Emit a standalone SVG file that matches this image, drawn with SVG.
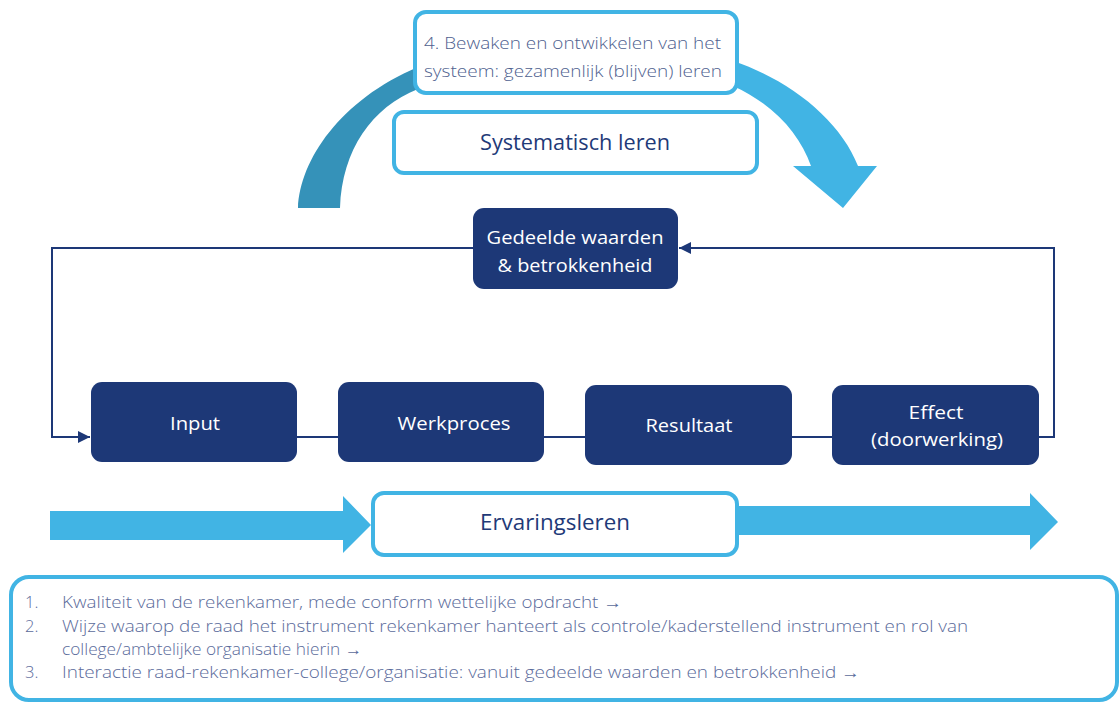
<svg xmlns="http://www.w3.org/2000/svg" width="1119" height="702" viewBox="0 0 1119 702">
<defs>
<style>
.navy{fill:#1d3877;}
.lb{fill:#fff;stroke:#41b4e4;stroke-width:4;}
.wt{fill:#fff;font-family:"Open Sans","Liberation Sans",sans-serif;font-size:19px;text-anchor:middle;}
.dt{fill:#1f3a78;font-family:"Open Sans","Liberation Sans",sans-serif;font-size:21px;text-anchor:middle;}
.gt{fill:#4f5f8f;font-family:"Open Sans","Liberation Sans",sans-serif;font-size:17px;font-weight:300;}
.bt{fill:#5b6b9b;font-family:"Open Sans","Liberation Sans",sans-serif;font-size:16.5px;font-weight:300;}
.conn{fill:none;stroke:#1d3877;stroke-width:2;}
</style>
<marker id="ah" viewBox="0 0 10 10" refX="10" refY="5" markerWidth="6" markerHeight="6" markerUnits="strokeWidth" orient="auto">
<path d="M0,0 L10,5 L0,10 Z" fill="#1d3877"/>
</marker>
</defs>

<g id="arc-left">
<path d="M298,208 C300,160 340,100 418,67 L418,89 C372,107 342,150 340,208 Z" fill="#3592b9"/>
</g>
<g id="arc-right">
<path d="M733,61 C790,80 840,120 858,166 L877,166 L843,208 L793,166 L811,166 C800,135 775,105 733,86 Z" fill="#41b4e4"/>
</g>

<g id="node-4">
<rect class="lb" x="415" y="12" width="322" height="81" rx="11"/>
<text class="gt" x="424" y="49" textLength="297" lengthAdjust="spacingAndGlyphs">4. Bewaken en ontwikkelen van het</text>
<text class="gt" x="424" y="77" textLength="298" lengthAdjust="spacingAndGlyphs">systeem: gezamenlijk (blijven) leren</text>
</g>

<g id="node-systematisch">
<rect class="lb" x="394" y="112" width="363" height="61" rx="10"/>
<text class="dt" x="575" y="150" textLength="190" lengthAdjust="spacingAndGlyphs">Systematisch leren</text>
</g>

<g id="connectors">
<polyline class="conn" points="1038,437 1054,437 1054,248 679,248" marker-end="url(#ah)"/>
<polyline class="conn" points="473,248 52,248 52,437 90,437" marker-end="url(#ah)"/>
<line class="conn" x1="297" y1="437" x2="338" y2="437"/>
<line class="conn" x1="544" y1="437" x2="585" y2="437"/>
<line class="conn" x1="792" y1="437" x2="833" y2="437"/>
</g>

<g id="node-gedeelde">
<rect class="navy" x="473" y="208" width="205" height="81" rx="11"/>
<text class="wt" x="575" y="244" textLength="177" lengthAdjust="spacingAndGlyphs">Gedeelde waarden</text>
<text class="wt" x="575" y="272" textLength="155" lengthAdjust="spacingAndGlyphs">&amp; betrokkenheid</text>
</g>

<g id="node-input">
<rect class="navy" x="91" y="382" width="206" height="80" rx="11"/>
<text class="wt" x="195" y="430" textLength="50" lengthAdjust="spacingAndGlyphs">Input</text>
</g>
<g id="node-werkproces">
<rect class="navy" x="338" y="382" width="206" height="80" rx="11"/>
<text class="wt" x="454" y="430" textLength="113" lengthAdjust="spacingAndGlyphs">Werkproces</text>
</g>
<g id="node-resultaat">
<rect class="navy" x="585" y="385" width="207" height="80" rx="11"/>
<text class="wt" x="689" y="432" textLength="87" lengthAdjust="spacingAndGlyphs">Resultaat</text>
</g>
<g id="node-effect">
<rect class="navy" x="832" y="385" width="207" height="80" rx="11"/>
<text class="wt" x="936" y="419" textLength="55" lengthAdjust="spacingAndGlyphs">Effect</text>
<text class="wt" x="937" y="446" textLength="132" lengthAdjust="spacingAndGlyphs">(doorwerking)</text>
</g>

<g id="arrow-ervaring">
<polygon points="50,511 343,511 343,496 371,525 343,553 343,540 50,540" fill="#41b4e4"/>
<polygon points="735,506 1030,506 1030,493 1058,522 1030,550 1030,535 735,535" fill="#41b4e4"/>
</g>
<g id="node-ervaringsleren">
<rect class="lb" x="373" y="493" width="364" height="62" rx="11"/>
<text class="dt" x="555" y="530" textLength="150" lengthAdjust="spacingAndGlyphs">Ervaringsleren</text>
</g>

<g id="node-list">
<rect class="lb" x="11" y="577" width="1106" height="123" rx="18"/>
<text class="bt" x="25" y="608">1.</text>
<text class="bt" x="62" y="608" textLength="560" lengthAdjust="spacingAndGlyphs">Kwaliteit van de rekenkamer, mede conform wettelijke opdracht →</text>
<text class="bt" x="25" y="632">2.</text>
<text class="bt" x="62" y="632" textLength="906" lengthAdjust="spacingAndGlyphs">Wijze waarop de raad het instrument rekenkamer hanteert als controle/kaderstellend instrument en rol van</text>
<text class="bt" x="62" y="655" textLength="300" lengthAdjust="spacingAndGlyphs">college/ambtelijke organisatie hierin →</text>
<text class="bt" x="25" y="678">3.</text>
<text class="bt" x="62" y="678" textLength="798" lengthAdjust="spacingAndGlyphs">Interactie raad-rekenkamer-college/organisatie: vanuit gedeelde waarden en betrokkenheid →</text>
</g>
</svg>
